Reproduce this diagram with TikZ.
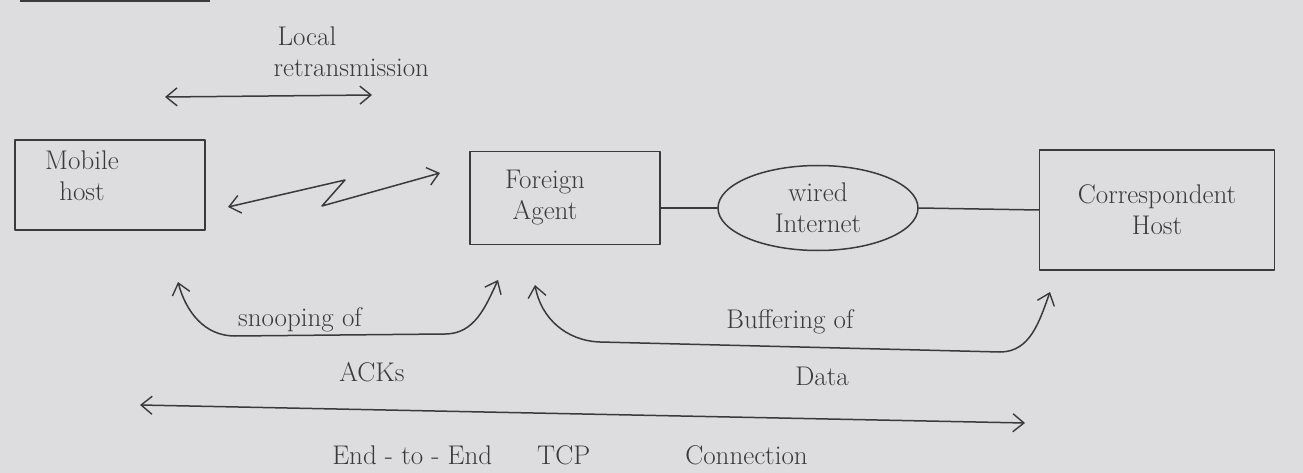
\documentclass[tikz,border=0pt]{standalone}
\usetikzlibrary{arrows.meta,shapes.geometric}

\definecolor{paper}{HTML}{DDDDE0}
\definecolor{ink}{HTML}{3A3A3C}

\tikzset{
    hand/.style={draw=ink,line width=1.5pt,line cap=round,line join=round},
    hostbox/.style={hand,rectangle,align=center,inner sep=2pt},
    label/.style={text=ink,font=\fontsize{27}{31}\selectfont,align=center},
    >={Straight Barb[length=11pt,width=18pt,line width=1.4pt]}
}

\begin{document}
\begin{tikzpicture}[x=1pt,y=-1pt]
    \fill[paper] (0,0) rectangle (1303,473);
    \useasboundingbox (0,0) rectangle (1303,473);
    \draw[ink,line width=2pt] (20,1) -- (210,1);

    % the four stations
    \node[hostbox,minimum width=190,minimum height=90] (mh) at (110,185) {};
    \node[label] (mhtext) at (82,176) {Mobile\\host};
    \node[hostbox,minimum width=190,minimum height=93] (fa) at (565,198) {};
    \node[label] (fatext) at (545,198) {Foreign\\Agent};
    \node[hand,ellipse,label,minimum width=200,minimum height=85] (net) at (818,208) {wired\\Internet};
    \node[hostbox,label,minimum width=235,minimum height=120] (ch) at (1157,210) {Correspondent\\Host};
    \draw[hand] (fa.east |- net.west) -- (net.west);
    \draw[hand] (net.east) -- (ch.west);

    % local retransmission
    \coordinate (lr1) at (165,97);
    \coordinate (lr2) at (372,95);
    \draw[hand,<->] (lr1) -- (lr2);
    \node[label,align=left,anchor=south west] (lrtext) at (270,80) {\hspace*{4pt}Local\\retransmission};

    % wireless hop
    \coordinate (zz1) at (228,207);
    \coordinate (zz2) at (345,180);
    \coordinate (zz3) at (322,206);
    \coordinate (zz4) at (440,173);
    \draw[hand,<->] (zz1) -- (zz2) -- (zz3) -- (zz4);

    % snooping of ACKs
    \coordinate (sn1) at (178,282);
    \coordinate (sn2) at (498,280);
    \draw[hand,<->] (sn1) to[out=-75,in=180] (235,336) -- (445,334) to[out=0,in=-115] (sn2);
    \node[label] (sntext) at (300,320) {snooping of};
    \node[label] (acks) at (372,372) {ACKs};

    % buffering of data
    \coordinate (bf1) at (535,285);
    \coordinate (bf2) at (1050,292);
    \draw[hand,<->] (bf1) to[out=-80,in=178] (600,342) -- (1000,352) to[out=0,in=-110] (bf2);
    \node[label] (bftext) at (790,322) {Buffering of};
    \node[label] (data) at (822,376) {Data};

    % end-to-end connection
    \coordinate (ee1) at (140,405);
    \coordinate (ee2) at (1025,423);
    \draw[hand,<->] (ee1) -- (ee2);
    \node[label] (eetext) at (570,455) {End - to - End\hspace{45pt}TCP\hspace{95pt}Connection};
\end{tikzpicture}
\end{document}
